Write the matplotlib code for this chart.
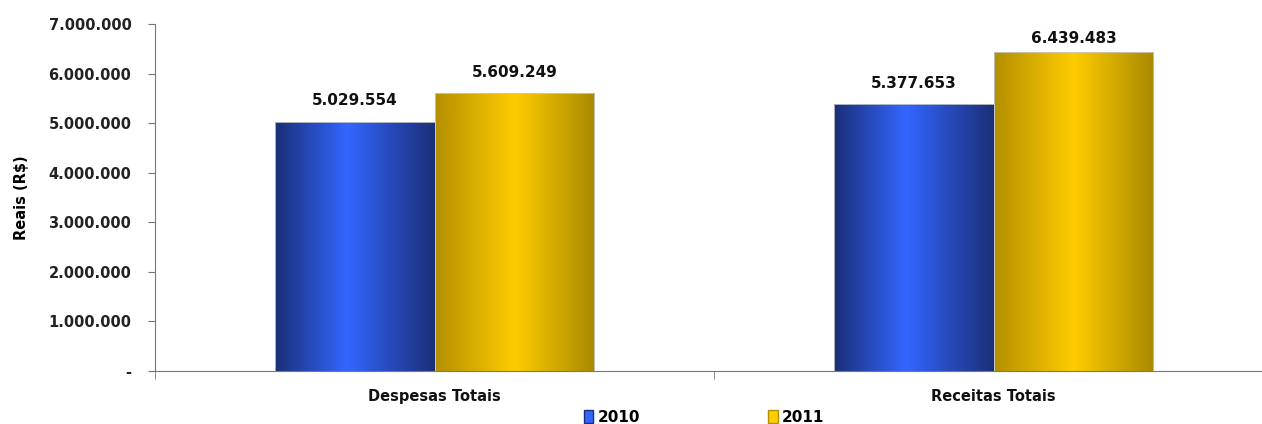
import numpy as np
import matplotlib.pyplot as plt
from matplotlib.colors import LinearSegmentedColormap
from matplotlib.patches import Patch

# data
categorias = ['Despesas Totais', 'Receitas Totais']
anos = ['2010', '2011']
valores_2010 = [5029554, 5377653]
valores_2011 = [5609249, 6439483]
yticks = [0, 1000000, 2000000, 3000000, 4000000, 5000000, 6000000, 7000000]

def fmt(v):
    if v == 0:
        return '-'
    return f'{v:,.0f}'.replace(',', '.')

blue_cm = LinearSegmentedColormap.from_list('b', [(0, '#1b2f78'), (0.45, '#3366ff'), (1, '#1b2f78')])
gold_cm = LinearSegmentedColormap.from_list('g', [(0, '#b48f00'), (0.5, '#ffcc00'), (1, '#a88a00')])

fig = plt.figure(figsize=(12.62, 4.24), dpi=100)
ax = fig.add_axes([155/1262, 1-371/424, 1118/1262, (371-24)/424])

x = np.arange(len(categorias))
w = 0.286
grad = np.linspace(0, 1, 256).reshape(1, -1)

for vals, off, cm in [(valores_2010, -w/2, blue_cm), (valores_2011, w/2, gold_cm)]:
    bars = ax.bar(x + off, vals, width=w, color='none', edgecolor='#c8c8c8', linewidth=0.6, zorder=3)
    for b, v in zip(bars, vals):
        x0 = b.get_x()
        im = ax.imshow(grad, cmap=cm, aspect='auto', extent=(x0, x0 + w, 0, v), zorder=2)
        im.set_clip_path(b)
        # labels near the top get squeezed down a bit, as in the original
        ax.text(x0 + w/2, min(v + 270000, 6550000), fmt(v), ha='center', va='bottom',
                fontsize=11, fontweight='bold', color='#111111')

ax.set_xlim(-0.5, 1.5)
ax.set_ylim(0, 7000000)
ax.set_yticks(yticks)
ax.set_yticklabels([fmt(v) for v in yticks], fontsize=10.5, fontweight='bold', color='#222222')
ax.set_xticks(x)
ax.set_xticklabels(categorias, fontsize=10.5, fontweight='bold', color='#111111')
ax.set_xticks([-0.5, 0.5, 1.5], minor=True)
ax.tick_params(axis='x', which='major', length=0, pad=13)
ax.tick_params(axis='x', which='minor', length=6, color='#777777', direction='out')
ax.tick_params(axis='y', length=5, color='#777777', pad=12)
ax.set_ylabel('Reais (R$)', fontsize=10.5, fontweight='bold')
ax.yaxis.set_label_coords(-0.113, 0.5)

for s in ['top', 'right']:
    ax.spines[s].set_visible(False)
ax.spines['left'].set_color('#777777')
ax.spines['bottom'].set_color('#777777')

handles = [Patch(facecolor='#3366ff', edgecolor='#1b2f78'), Patch(facecolor='#ffcc00', edgecolor='#b48f00')]
fig.legend(handles, anos, loc='center', bbox_to_anchor=(0.558, 0.016), ncol=2, frameon=False,
           prop={'weight': 'bold', 'size': 11}, handlelength=0.6, handleheight=1.0,
           handletextpad=0.3, columnspacing=8.4)

fig.savefig('out.png', dpi=100)
